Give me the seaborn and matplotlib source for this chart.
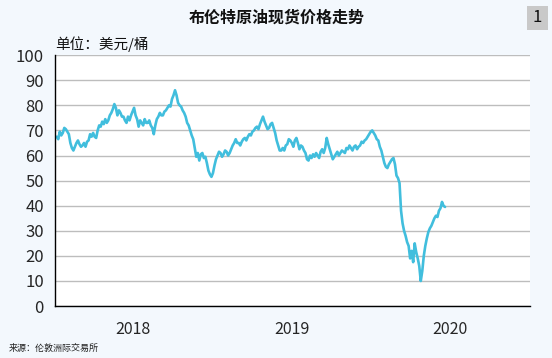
import pandas as pd
import seaborn as sns
import matplotlib.pyplot as plt
from matplotlib.patches import Rectangle

# Brent spot price, two readings per week (USD/barrel)
start_day = "2018-01-05"
price_2018 = [67.5, 66.5, 69.5, 68, 69, 71, 70.5, 69.5, 68.5, 65, 63, 62, 63.5, 65,
              66, 64.5, 63.5, 64, 65, 63.5, 65.5, 66, 68.5, 67.5, 69, 67.5, 67, 70,
              72, 71.5, 73.5, 72.5, 74.5, 73, 74, 76, 77, 78.5, 80.5, 79, 76, 78,
              77, 75.5, 75.5, 74, 73, 75.5, 74, 76, 77.5, 79, 76, 74.5, 71.5, 74,
              73, 72, 74.5, 73, 73, 74, 72, 71, 68.5, 72, 74.5, 75.5, 77, 76,
              76, 77.5, 78, 79, 80, 79.5, 82.5, 84, 86, 84, 81, 80, 79.5, 78,
              77, 75.5, 73, 72, 70, 68, 66.5, 63, 59.5, 61, 58, 60.5, 61, 59,
              59.5, 57, 54, 52.5, 51.5, 53]
price_2019 = [56, 58.5, 60, 61.5, 61, 59.5, 60.5, 62, 61.5, 60, 61, 62.5, 64, 65,
              66.5, 65, 65, 64, 65.5, 66.5, 67, 66, 67.5, 68.5, 68, 69.5, 70, 71,
              71.5, 70.5, 72.5, 74, 75.5, 73.5, 72, 70.5, 71, 72.5, 73, 71, 69, 66,
              64, 62, 62, 63, 62, 64, 64.5, 66.5, 66, 65, 63.5, 66, 67, 65,
              62.5, 64, 63.5, 62, 61, 58.5, 58, 60, 59, 60.5, 59.5, 61, 60, 59,
              61.5, 62.5, 61, 63, 67, 64.5, 62.5, 60.5, 58.5, 59.5, 60.5, 61.5, 60, 61,
              62, 61.5, 61, 63, 62.5, 64, 63, 62, 63.5, 64, 62.5, 63.5, 64, 65.5,
              65, 66, 66.5, 67.5, 68.5, 69.5]
price_2020 = [70, 69, 68, 66.5, 66, 63.5, 62, 59.5, 57, 55.5, 55, 56.5, 57.5, 58.5,
              59, 56.5, 52, 51, 49, 38, 33, 30, 28, 25.5, 24, 19, 22, 17.5,
              25, 21.5, 19, 16, 10, 14, 20, 24, 27, 29.5, 31, 32, 33.5, 35,
              36, 35.5, 38, 39, 41.5, 40, 39.5]

prices = price_2018 + price_2019 + price_2020
dates = pd.date_range(start_day, periods=len(prices), freq="84h")
df = pd.DataFrame({"date": dates, "price": prices})

year_labels = ["", "2018", "", "2019", "", "2020", ""]
tick_dates = pd.date_range("2018-01-01", "2021-01-01", freq="6MS")

sns.set_theme(style="white")
plt.rcParams["font.family"] = ["Noto Sans CJK SC", "DejaVu Sans"]

bg = "#F3F8FD"
fig = plt.figure(figsize=(5.52, 3.58), dpi=100, facecolor=bg)
ax = fig.add_axes([0.0996, 0.145, 0.8605, 0.701])
ax.set_facecolor("white")

sns.lineplot(data=df, x="date", y="price", ax=ax, color="#41BEDD", linewidth=1.9)

ax.set_ylim(0, 100)
ax.set_yticks(range(0, 101, 10))
ax.set_xlim(pd.Timestamp("2018-01-01"), pd.Timestamp("2021-01-01"))
ax.set_xticks(tick_dates)
ax.set_xticklabels(year_labels)
ax.grid(axis="y", color="#BDBDBD", linewidth=1)
ax.set_axisbelow(True)

for s in ["top", "right"]:
    ax.spines[s].set_visible(False)
for s in ["left", "bottom"]:
    ax.spines[s].set_color("black")
    ax.spines[s].set_linewidth(1)

ax.tick_params(axis="x", direction="in", length=4, color="black", labelsize=11.5, pad=11)
ax.tick_params(axis="y", direction="out", length=0, labelsize=12, pad=8)
ax.set_xlabel("")
ax.set_ylabel("")

fig.text(0.502, 0.95, "布伦特原油现货价格走势", ha="center", va="center",
         fontsize=11.5, fontweight="bold", color="#111111")
fig.text(0.1, 0.878, "单位：美元/桶", ha="left", va="center", fontsize=10.5, color="#111111")
fig.text(0.016, 0.027, "来源：伦敦洲际交易所", ha="left", va="center", fontsize=6.5, color="#222222")

fig.patches.append(Rectangle((527 / 552, 1 - 30 / 358), 21 / 552, 24 / 358,
                             transform=fig.transFigure, facecolor="#C9C9C9",
                             edgecolor="none"))
fig.text(537.5 / 552, 1 - 18 / 358, "1", ha="center", va="center", fontsize=12, color="#111111")

fig.savefig("out.png", dpi=100, facecolor=bg)
